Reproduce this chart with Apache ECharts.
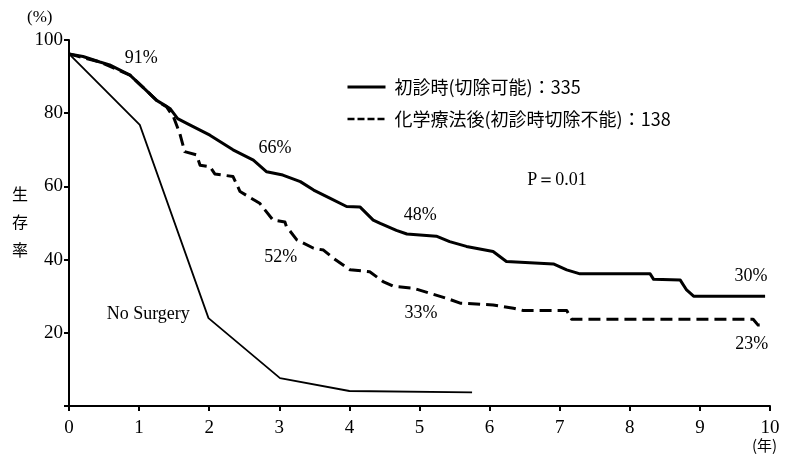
<!DOCTYPE html>
<html><head><meta charset="utf-8">
<script src="https://cdn.jsdelivr.net/npm/echarts@6/dist/echarts.min.js"></script>
<style>html,body{margin:0;padding:0;background:#fff}#c{width:787px;height:457px}</style>
</head><body><div id="c"></div>
<script>
// ---- data ----
const xTicks = [0,1,2,3,4,5,6,7,8,9,10];
const yTicks = [0,20,40,60,80,100];

const seriesNames = ['初診時(切除可能)：335', '化学療法後(初診時切除不能)：138', 'No Surgery'];

const resectYears = [0,0.2,0.44,0.58,0.87,1.06,1.25,1.38,1.44,1.55,1.68,2.01,2.34,2.63,2.82,3.05,3.3,3.49,3.72,3.96,4.15,4.34,4.44,4.67,4.82,5.24,5.43,5.67,6.05,6.24,6.91,7.1,7.29,8.29,8.34,8.72,8.81,8.91,9.93];
const resectSurv  = [96.2,95.5,94,93.2,90.4,87,83.5,82,81.3,78.5,77.2,74,70,67.2,64,63.1,61.3,59,56.8,54.5,54.4,50.8,49.9,48,47,46.4,44.9,43.6,42.2,39.5,38.8,37.2,36.1,36.1,34.6,34.4,31.7,30,30];

const chemoYears = [0,0.44,0.87,1.06,1.25,1.34,1.39,1.49,1.58,1.65,1.82,1.87,2.01,2.08,2.34,2.44,2.72,2.91,3.08,3.1,3.25,3.49,3.63,3.77,4.01,4.29,4.48,4.63,4.91,5.15,5.39,5.58,6.05,6.34,6.48,7.1,7.17,9.76,9.83,9.93];
const chemoSurv  = [96.2,94,90.4,87,83.5,82.3,81.8,79,74.5,69.5,68.6,65.8,65.4,63.4,62.7,58.6,55.4,50.8,50.3,49.1,45.4,43.1,42.6,40.4,37.2,36.7,34,32.7,32.2,30.8,29.4,28.1,27.6,26.7,26.1,26.1,23.7,23.7,22.1,22.1];

const noSurgYears = [0,1.01,1.99,3.01,4.0,5.75];
const noSurgSurv  = [96.2,76.8,24,7.6,4.1,3.7];

const annoTexts  = ['91%','66%','48%','52%','33%','30%','23%','No Surgery','P＝0.01'];
const annoYears  = [1.03,2.94,5.01,3.02,5.02,9.73,9.74,1.13,6.96];
const annoValues = [95.1,70.5,52.2,40.7,25.4,35.5,16.9,25.1,61.7];

// ---- chart ----
const zip = (xs, ys) => xs.map((x, i) => [x, ys[i]]);
const serif = 'Liberation Serif';
const cjk = 'Noto Sans CJK JP';

const chart = echarts.init(document.getElementById('c'), null, {renderer: 'canvas'});
chart.setOption({
  animation: false,
  backgroundColor: '#fff',
  grid: {left: 69, right: 17, top: 40, bottom: 51, containLabel: false},
  xAxis: {
    type: 'value', min: 0, max: 10, interval: 1,
    axisLine: {show: true, onZero: false, lineStyle: {color: '#000', width: 2}},
    axisTick: {show: true, inside: false, length: 5, lineStyle: {color: '#000', width: 2}},
    axisLabel: {color: '#000', fontFamily: serif, fontSize: 19, margin: 13,
      formatter: v => xTicks.includes(v) ? String(v) : ''},
    splitLine: {show: false}
  },
  yAxis: {
    type: 'value', min: 0, max: 100, interval: 20,
    axisLine: {show: true, lineStyle: {color: '#000', width: 2}},
    axisTick: {show: true, inside: false, length: 5, lineStyle: {color: '#000', width: 2}},
    axisLabel: {color: '#000', fontFamily: serif, fontSize: 19, margin: 6,
      formatter: v => (v === 0 || !yTicks.includes(v)) ? '' : String(v)},
    splitLine: {show: false}
  },
  legend: {
    orient: 'vertical', left: 341, top: 73, itemWidth: 38, itemHeight: 16, itemGap: 14,
    formatter: n => ' ' + n,
    textStyle: {color: '#000', fontFamily: cjk, fontSize: 18, lineHeight: 18},
    data: [
      {name: seriesNames[0], itemStyle: {opacity: 0}, lineStyle: {color: '#000', width: 3, type: 'solid'}},
      {name: seriesNames[1], itemStyle: {opacity: 0}, lineStyle: {color: '#000', width: 2.5, type: [7, 3]}}
    ]
  },
  graphic: [
    {type: 'text', left: 27, top: 9, style: {text: '(%)', font: '17px "Liberation Serif"', fill: '#000'}},
    {type: 'text', left: 752, top: 438, style: {text: '(年)', font: '15px "Noto Sans CJK JP"', fill: '#000'}},
    {type: 'text', left: 12, top: 180, style: {text: '生\n存\n率', font: '16px "Noto Sans CJK JP"', lineHeight: 28, fill: '#000'}}
  ],
  series: [
    {
      name: seriesNames[1], type: 'line', data: zip(chemoYears, chemoSurv),
      showSymbol: false, symbol: 'none', z: 2,
      lineStyle: {color: '#000', width: 3, type: [12, 6], join: 'round'},
      itemStyle: {color: '#000'}
    },
    {
      name: seriesNames[0], type: 'line', data: zip(resectYears, resectSurv),
      showSymbol: false, symbol: 'none', z: 3,
      lineStyle: {color: '#000', width: 3, join: 'round'},
      itemStyle: {color: '#000'}
    },
    {
      name: seriesNames[2], type: 'line', data: zip(noSurgYears, noSurgSurv),
      showSymbol: false, symbol: 'none', z: 2,
      lineStyle: {color: '#000', width: 1.8},
      itemStyle: {color: '#000'}
    },
    {
      name: 'annotations', type: 'scatter', symbolSize: 0, z: 5,
      itemStyle: {opacity: 1, color: '#000'},
      data: annoTexts.map((t, i) => ({name: t, value: [annoYears[i], annoValues[i]]})),
      label: {show: true, position: 'inside', formatter: p => p.name, opacity: 1,
        color: '#000', fontFamily: serif, fontSize: 18}
    }
  ]
});
</script></body></html>
